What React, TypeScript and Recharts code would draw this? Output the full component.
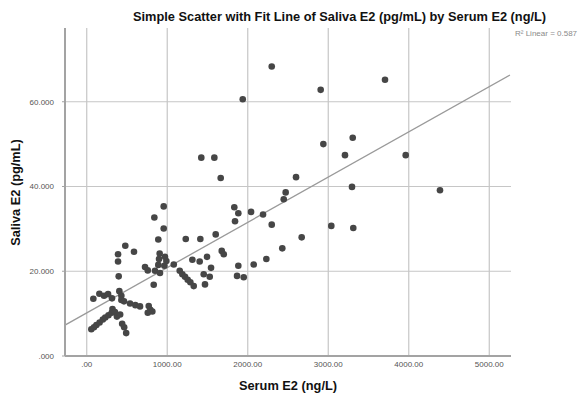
import React from 'react';
import { ScatterChart, Scatter, XAxis, YAxis, CartesianGrid, ReferenceLine } from 'recharts';

// values
const serumE2 = [
  57, 90, 120, 160, 200, 230, 270, 310, 320, 350, 375, 415, 440, 465, 490,
  82, 157, 215, 265, 314, 405, 430, 430, 463, 538, 604, 662,
  397, 389, 389, 479, 587, 724, 758, 770, 790, 758, 815, 832, 848,
  910, 889, 964, 898, 906, 972, 989, 889, 956, 840, 956,
  1081, 1155, 1188, 1221, 1254, 1287, 1230, 1411, 1602, 1312, 1403, 1494,
  1544, 1453, 1528, 1469, 1329, 1677, 1702, 1833, 1883, 1842, 2041, 2190,
  2298, 2670, 2429, 2231, 2074, 1883, 1867, 1950, 2471, 2447, 2600, 1664,
  1423, 1585, 1938, 2298, 2906, 3705, 2939, 3304, 3208, 3962, 3295, 4388,
  3038, 3311,
];
const salivaE2 = [
  6.3, 6.8, 7.3, 7.9, 8.6, 9.1, 9.6, 10.2, 11.1, 10.4, 9.3, 9.8, 7.6, 6.8, 5.4,
  13.5, 14.7, 14.2, 14.6, 13.6, 15.3, 14.2, 13.2, 12.9, 12.4, 12.0, 11.7,
  18.8, 22.3, 24.0, 26.0, 24.6, 21.0, 20.2, 11.8, 10.9, 10.2, 10.5, 16.8, 20.1,
  19.6, 21.5, 21.3, 22.9, 24.2, 23.4, 22.4, 27.5, 30.1, 32.7, 35.3,
  21.6, 20.1, 19.3, 18.7, 18.0, 17.4, 27.6, 27.6, 28.7, 22.7, 22.3, 23.4,
  20.8, 19.3, 18.7, 16.9, 16.5, 24.8, 24.0, 35.1, 33.7, 31.8, 34.0, 33.4,
  31.0, 28.0, 25.4, 22.9, 21.6, 21.3, 18.9, 18.6, 38.6, 37.0, 42.2, 42.0,
  46.8, 46.8, 60.6, 68.3, 62.8, 65.2, 50.0, 51.5, 47.4, 47.4, 39.9, 39.1,
  30.7, 30.2,
];

// fit line end points (R² linear = 0.587)
const fitX = [-270, 5257];
const fitY = [7.3, 66.3];

const xTicks = [0, 1000, 2000, 3000, 4000, 5000];
const yTicks = [0, 20, 40, 60];

const points = serumE2.map((x, i) => ({ x, y: salivaE2[i] }));

const font = '"Liberation Sans", Arial, sans-serif';

const Dot = (props: any) => {
  const { cx, cy } = props;
  if (cx == null || cy == null) return null;
  return <circle cx={cx} cy={cy} r={3.3} fill="#464646" />;
};

const App: React.FC = () => {
  return (
    <div style={{ position: 'absolute', left: 0, top: 0, width: 580, height: 399, background: '#fff', fontFamily: font, overflow: 'hidden' }}>
      <ScatterChart width={580} height={399} margin={{ top: 28, right: 69, bottom: 13, left: 8 }}>
        <CartesianGrid stroke="#c6c6c6" strokeWidth={1.2} horizontalValues={yTicks} verticalValues={xTicks} />
        <XAxis
          type="number"
          dataKey="x"
          domain={[-270, 5270]}
          allowDataOverflow
          ticks={xTicks}
          tickFormatter={(v: number) => (v === 0 ? '.00' : v.toFixed(2))}
          height={30}
          tickLine={false}
          tickSize={0}
          tickMargin={5}
          axisLine={{ stroke: '#a3a3a3', strokeWidth: 2 }}
          tick={{ fill: '#555', fontSize: 8, fontFamily: font }}
        />
        <YAxis
          type="number"
          dataKey="y"
          domain={[0, 77.4]}
          allowDataOverflow
          ticks={yTicks}
          tickFormatter={(v: number) => (v === 0 ? '.000' : v.toFixed(3))}
          width={57}
          tickSize={3}
          tickMargin={8}
          tickLine={{ stroke: '#a3a3a3' }}
          axisLine={{ stroke: '#a3a3a3', strokeWidth: 2 }}
          tick={{ fill: '#555', fontSize: 8, fontFamily: font }}
        />
        <ReferenceLine
          segment={[{ x: fitX[0], y: fitY[0] }, { x: fitX[1], y: fitY[1] }]}
          stroke="#9a9a9a"
          strokeWidth={1.3}
          ifOverflow="visible"
        />
        <Scatter data={points} shape={<Dot />} isAnimationActive={false} />
      </ScatterChart>

      <div style={{ position: 'absolute', left: 133, top: 9, fontSize: 12.8, fontWeight: 'bold', color: '#111', whiteSpace: 'nowrap' }}>
        Simple Scatter with Fit Line of Saliva E2 (pg/mL) by Serum E2 (ng/L)
      </div>
      <div style={{ position: 'absolute', left: 515, top: 29, fontSize: 8, color: '#8a8a8a', whiteSpace: 'nowrap' }}>
        R² Linear = 0.587
      </div>
      <div style={{ position: 'absolute', left: 188, top: 378, width: 200, textAlign: 'center', fontSize: 12.8, fontWeight: 'bold', color: '#111' }}>
        Serum E2 (ng/L)
      </div>
      <div
        style={{
          position: 'absolute', left: 15, top: 193, width: 200, marginLeft: -100, marginTop: -8, textAlign: 'center',
          transform: 'rotate(-90deg)', fontSize: 12.8, fontWeight: 'bold', color: '#111', whiteSpace: 'nowrap',
        }}
      >
        Saliva E2 (pg/mL)
      </div>
    </div>
  );
};

export default App;
